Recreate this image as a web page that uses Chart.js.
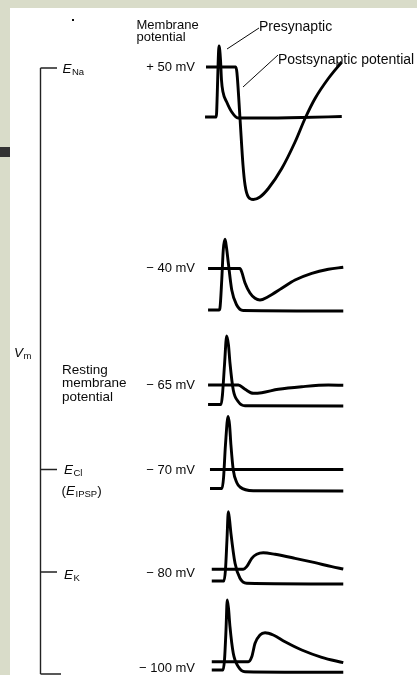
<!DOCTYPE html>
<html>
<head>
<meta charset="utf-8">
<script src="https://cdn.jsdelivr.net/npm/chart.js@4.4.1/dist/chart.umd.min.js"></script>
<style>
  html, body { margin: 0; padding: 0; width: 417px; height: 675px; overflow: hidden; background: #d9dcc9; }
  #bullet { position: absolute; left: 0; top: 147px; width: 10px; height: 10px; background: #333; }
  #panel { position: absolute; left: 10px; top: 8px; width: 407px; height: 667px; background: #fff; }
  canvas { display: block; }
</style>
</head>
<body>
<div id="bullet"></div>
<div id="panel"><canvas id="c" width="407" height="667"></canvas></div>
<script>
// ---------- DATA (time in ms, deflection in display units, + = upward) ----------
const holdingLabels = ['+ 50 mV', '\u2212 40 mV', '\u2212 65 mV', '\u2212 70 mV', '\u2212 80 mV', '\u2212 100 mV'];

// +50 mV
const preT_p50  = [-0.7, 7.5, 8.2, 8.9, 9.5, 10.6, 11.3, 12.4, 15.1, 18.8, 23.4, 39.4, 69.9, 99.1];
const preV_p50  = [0, 0, 22, 56, 71, 57, 37, 25, 15, 5, -1, -1, -0.5, 0.5];
const postT_p50 = [0, 21.7, 22.6, 24.8, 27.0, 28.5, 30.9, 34.5, 39.4, 45.5, 55.3, 65.0, 72.3, 79.6, 89.3, 99.1];
const postV_p50 = [0, 0, -6, -51, -98, -118, -130, -132.5, -130, -121.5, -101.5, -75, -51.5, -31.5, -11.5, 5];

// -40 mV
const preT_m40  = [1.5, 9.5, 10.2, 11.5, 12.6, 13.9, 15.0, 16.3, 18.8, 22.4, 27.2, 100.2];
const preV_m40  = [0, 0, 2, 30, 60, 70.7, 62, 47, 20, 5, -0.5, -1];
const postT_m40 = [1.5, 24.8, 26.1, 28.5, 32.1, 35.8, 39.4, 45.3, 55.3, 65.0, 77.2, 89.3, 100.2];
const postV_m40 = [0, 0, -3.5, -14.5, -24.5, -29.8, -31.5, -28.2, -19.8, -11.5, -4.8, -0.8, 1.2];

// -65 mV (resting)
const preT_m65  = [1.5, 11.0, 12.0, 13.5, 15.1, 16.4, 17.5, 19.9, 23.6, 28.5, 100.2];
const preV_m65  = [0, 0, 9.5, 39.5, 68.5, 59.5, 41.5, 14.5, 2.8, -1.2, -1.5];
const postT_m65 = [1.5, 23.6, 28.5, 34.5, 40.7, 52.8, 69.9, 89.3, 100.2];
const postV_m65 = [0, 0, -4.3, -8.3, -7.7, -4.3, -1.7, 0, -0.3];

// -70 mV (E_Cl)
const preT_m70  = [2.9, 11.7, 12.8, 14.2, 16.1, 17.2, 18.2, 19.9, 22.6, 24.8, 34.5, 100.2];
const preV_m70  = [0, 0, 10.5, 43.5, 72, 63.5, 43.5, 18.5, 5.5, 1.5, -2.2, -2.5];
const postT_m70 = [2.9, 100.2];
const postV_m70 = [0, 0];

// -80 mV (E_K)
const preT_m80  = [4.2, 13.1, 14.2, 15.3, 16.3, 17.2, 18.2, 21.2, 24.8, 29.7, 100.2];
const preV_m80  = [0, 0, 11, 41, 69.3, 61, 47.7, 17.7, 2.7, -2.3, -3];
const postT_m80 = [4.2, 27.2, 29.7, 33.4, 37.0, 41.8, 50.4, 65.0, 79.6, 91.8, 100.2];
const postV_m80 = [0, 0, 2.6, 11, 15, 16.6, 15, 11, 6.6, 2.6, 0.3];

// -100 mV
const preT_m100  = [4.2, 12.4, 13.5, 14.6, 15.5, 16.4, 17.5, 19.9, 23.6, 28.5, 100.2];
const preV_m100  = [0, 0, 10, 40, 70, 62, 43.3, 16.7, 3.3, -1.7, -2.3];
const postT_m100 = [4.2, 30.9, 33.4, 35.8, 39.4, 43.1, 49.1, 57.7, 69.9, 84.5, 100.2];
const postV_m100 = [0, 0, 5, 18.4, 26.7, 29, 26.7, 20, 11.7, 4.4, -1];

// ---------- LAYOUT (page pixels) ----------
const T0_X = 206, PX_PER_MS = 1.37;           // time axis placement
const PAGE_W = 417, PAGE_H = 675, PANEL_L = 10, PANEL_T = 8;
const postBase = [67, 268.5, 385, 469.5, 569.3, 661.7];
const preBase  = [117, 310, 404.5, 488.5, 581, 670];
const labelY   = [67, 268.5, 385, 470, 573, 668];
const LABEL_RIGHT = 195;
const bracketX = 40.5, bracketTicks = [[68, 57], [469.5, 57], [572, 57], [674, 61]];

const traces = [
  [preT_p50, preV_p50, postT_p50, postV_p50],
  [preT_m40, preV_m40, postT_m40, postV_m40],
  [preT_m65, preV_m65, postT_m65, postV_m65],
  [preT_m70, preV_m70, postT_m70, postV_m70],
  [preT_m80, preV_m80, postT_m80, postV_m80],
  [preT_m100, preV_m100, postT_m100, postV_m100]
];

function pts(T, V, base) { return T.map((t, i) => ({ x: t, y: base - V[i] })); }

const datasets = [];
traces.forEach((tr, i) => {
  datasets.push({ label: 'pre ' + holdingLabels[i], data: pts(tr[0], tr[1], preBase[i]) });
  datasets.push({ label: 'post ' + holdingLabels[i], data: pts(tr[2], tr[3], postBase[i]) });
});
datasets.forEach(d => Object.assign(d, {
  showLine: true, pointRadius: 0, borderColor: '#000', borderWidth: 2.9,
  cubicInterpolationMode: 'monotone', fill: false, clip: false,
  borderJoinStyle: 'round', borderCapStyle: 'butt'
}));

const FONT = '"Liberation Sans", Arial, Helvetica, sans-serif';

function subLabel(ctx, x, y, parts) {
  // parts: [text, kind] kind: 'n' normal, 'i' italic, 's' subscript
  let cx = x;
  parts.forEach(([t, k]) => {
    if (k === 's') { ctx.font = '9.5px ' + FONT; ctx.fillText(t, cx, y + 3.5); }
    else if (k === 'i') { ctx.font = 'italic 13.5px ' + FONT; ctx.fillText(t, cx, y); }
    else { ctx.font = '13.5px ' + FONT; ctx.fillText(t, cx, y); }
    cx += ctx.measureText(t).width + (k === 'i' ? 0.5 : 0);
  });
}

const annotations = {
  id: 'annotations',
  afterDatasetsDraw(chart) {
    const ctx = chart.ctx;
    const ys = chart.scales.y;
    const px = X => X - PANEL_L;
    const py = Y => ys.getPixelForValue(Y);
    ctx.save();
    ctx.fillStyle = '#0a0a0a';
    ctx.strokeStyle = '#0a0a0a';

    // holding potential labels
    ctx.textBaseline = 'middle';
    ctx.textAlign = 'right';
    ctx.font = '13px ' + FONT;
    holdingLabels.forEach((t, i) => ctx.fillText(t, px(LABEL_RIGHT), py(labelY[i])));

    // top labels
    ctx.textAlign = 'left';
    ctx.textBaseline = 'alphabetic';
    ctx.font = '13px ' + FONT;
    ctx.fillText('Membrane', px(136.5), py(28.5));
    ctx.fillText('potential', px(136.5), py(40.5));
    ctx.textBaseline = 'middle';
    ctx.font = '14px ' + FONT;
    ctx.fillText('Presynaptic', px(259), py(27));
    ctx.fillText('Postsynaptic potential', px(278), py(60));

    // leader lines
    ctx.lineWidth = 1;
    ctx.beginPath();
    ctx.moveTo(px(227), py(49)); ctx.lineTo(px(259), py(28));
    ctx.moveTo(px(243), py(87)); ctx.lineTo(px(278), py(55));
    ctx.stroke();

    // Vm bracket
    ctx.lineWidth = 1.4;
    ctx.strokeStyle = '#222';
    ctx.beginPath();
    ctx.moveTo(px(bracketX), py(bracketTicks[0][0]));
    ctx.lineTo(px(bracketX), py(bracketTicks[3][0]));
    bracketTicks.forEach(([y, x2]) => { ctx.moveTo(px(bracketX), py(y)); ctx.lineTo(px(x2), py(y)); });
    ctx.stroke();

    // left labels
    ctx.textBaseline = 'middle';
    ctx.textAlign = 'left';
    subLabel(ctx, px(62.5), py(69), [['E', 'i'], ['Na', 's']]);
    subLabel(ctx, px(14), py(353), [['V', 'i'], ['m', 's']]);
    subLabel(ctx, px(64), py(470), [['E', 'i'], ['Cl', 's']]);
    subLabel(ctx, px(61.5), py(491), [['(', 'n'], ['E', 'i'], ['IPSP', 's'], [')', 'n']]);
    subLabel(ctx, px(64), py(575), [['E', 'i'], ['K', 's']]);
    ctx.font = '13.5px ' + FONT;
    ctx.fillText('Resting', px(62), py(370));
    ctx.fillText('membrane', px(62), py(383.5));
    ctx.fillText('potential', px(62), py(397));

    // stray print speck
    ctx.fillRect(px(72), py(19), 2, 2);
    ctx.restore();
  }
};

new Chart(document.getElementById('c'), {
  type: 'scatter',
  data: { datasets },
  options: {
    responsive: false,
    animation: false,
    devicePixelRatio: 1,
    layout: { padding: 0 },
    plugins: { legend: { display: false }, tooltip: { enabled: false } },
    scales: {
      x: { type: 'linear', display: false,
           min: (PANEL_L - T0_X) / PX_PER_MS, max: (PAGE_W - T0_X) / PX_PER_MS },
      y: { type: 'linear', display: false, reverse: true, min: PANEL_T, max: PAGE_H }
    }
  },
  plugins: [annotations]
});
</script>
</body>
</html>
